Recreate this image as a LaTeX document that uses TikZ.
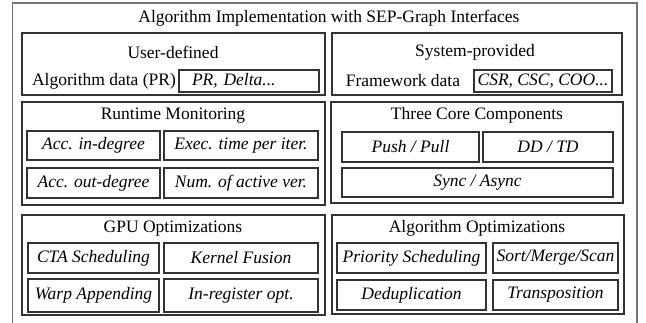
\documentclass[tikz,border=0pt]{standalone}
\usepackage{fontspec}
\setmainfont{Liberation Serif}

\begin{document}
\begin{tikzpicture}[x=1pt,y=-1pt,
  ruutu/.style={draw=black!80,line width=1.1pt,inner sep=0pt},
  solu/.style={ruutu,font=\itshape}]
\fontsize{17.5}{20}\selectfont
\newcommand\lokero[6]{
\pgfmathsetmacro\lev{#4-#2}
\pgfmathsetmacro\kork{#5-#3}
\node[solu, minimum width=\lev pt, minimum height=\kork pt] (#1) at ({(#2+#4)/2},{(#3+#5)/2}) {#6};
}
\useasboundingbox (0,0) rectangle (646,322);
\draw[draw=black!55, line width=1.1pt] (12.5,340) -- (12.5,3) -- (637,3) -- (637,340);
\node (otsikko) at (329,18) {Algorithm Implementation with SEP-Graph Interfaces};
% data
\lokero{kayttaja}{22}{33}{325}{95}{}
\node (kayttajaotsikko) at (173,52) {User-defined};
\node (algdata) at (104,81) {Algorithm data (PR)};
\node[solu, minimum width=140pt, minimum height=22pt, text width=114pt, align=left] (prdata) at (249,81) {PR, Delta...};
\lokero{jarjestelma}{332}{33}{622}{95}{}
\node (jarjestelmaotsikko) at (475,52) {System-provided};
\node (fwdata) at (403,81) {Framework data};
\lokero{csr}{474}{70}{612}{92}{CSR, CSC, COO...}
% monitoring
\lokero{seuranta}{22}{102}{325}{205}{}
\node (seurantaotsikko) at (173,116) {Runtime Monitoring};
\lokero{indeg}{27}{131}{160}{160}{Acc. in-degree}
\lokero{aika}{164}{131}{318}{160}{Exec. time per iter.}
\lokero{outdeg}{27}{168}{160}{198}{Acc. out-degree}
\lokero{aktiivi}{164}{168}{318}{198}{Num. of active ver.}
% core
\lokero{ydin}{331}{102}{623}{203}{}
\node (ydinotsikko) at (477,115) {Three Core Components};
\lokero{push}{342}{132}{479}{162}{Push / Pull}
\lokero{ddtd}{483}{132}{613}{162}{DD / TD}
\lokero{sync}{342}{168}{613}{197}{Sync / Async}
% gpu
\lokero{gpu}{22}{215}{325}{315}{}
\node (gpuotsikko) at (173,229) {GPU Optimizations};
\lokero{cta}{28}{243}{159}{273}{CTA Scheduling}
\lokero{fuusio}{164}{243}{318}{273}{Kernel Fusion}
\lokero{warp}{28}{279}{159}{312}{Warp Appending}
\lokero{rekisteri}{164}{279}{318}{312}{In-register opt.}
% algorithm
\lokero{algo}{332}{215}{624}{314}{}
\node (algootsikko) at (477,228) {Algorithm Optimizations};
\lokero{prio}{337}{243}{486}{273}{Priority Scheduling}
\lokero{lajittelu}{493}{243}{618}{273}{Sort/Merge/Scan}
\lokero{dedup}{337}{280}{486}{310}{Deduplication}
\lokero{transp}{493}{280}{618}{310}{Transposition}
\end{tikzpicture}
\end{document}
